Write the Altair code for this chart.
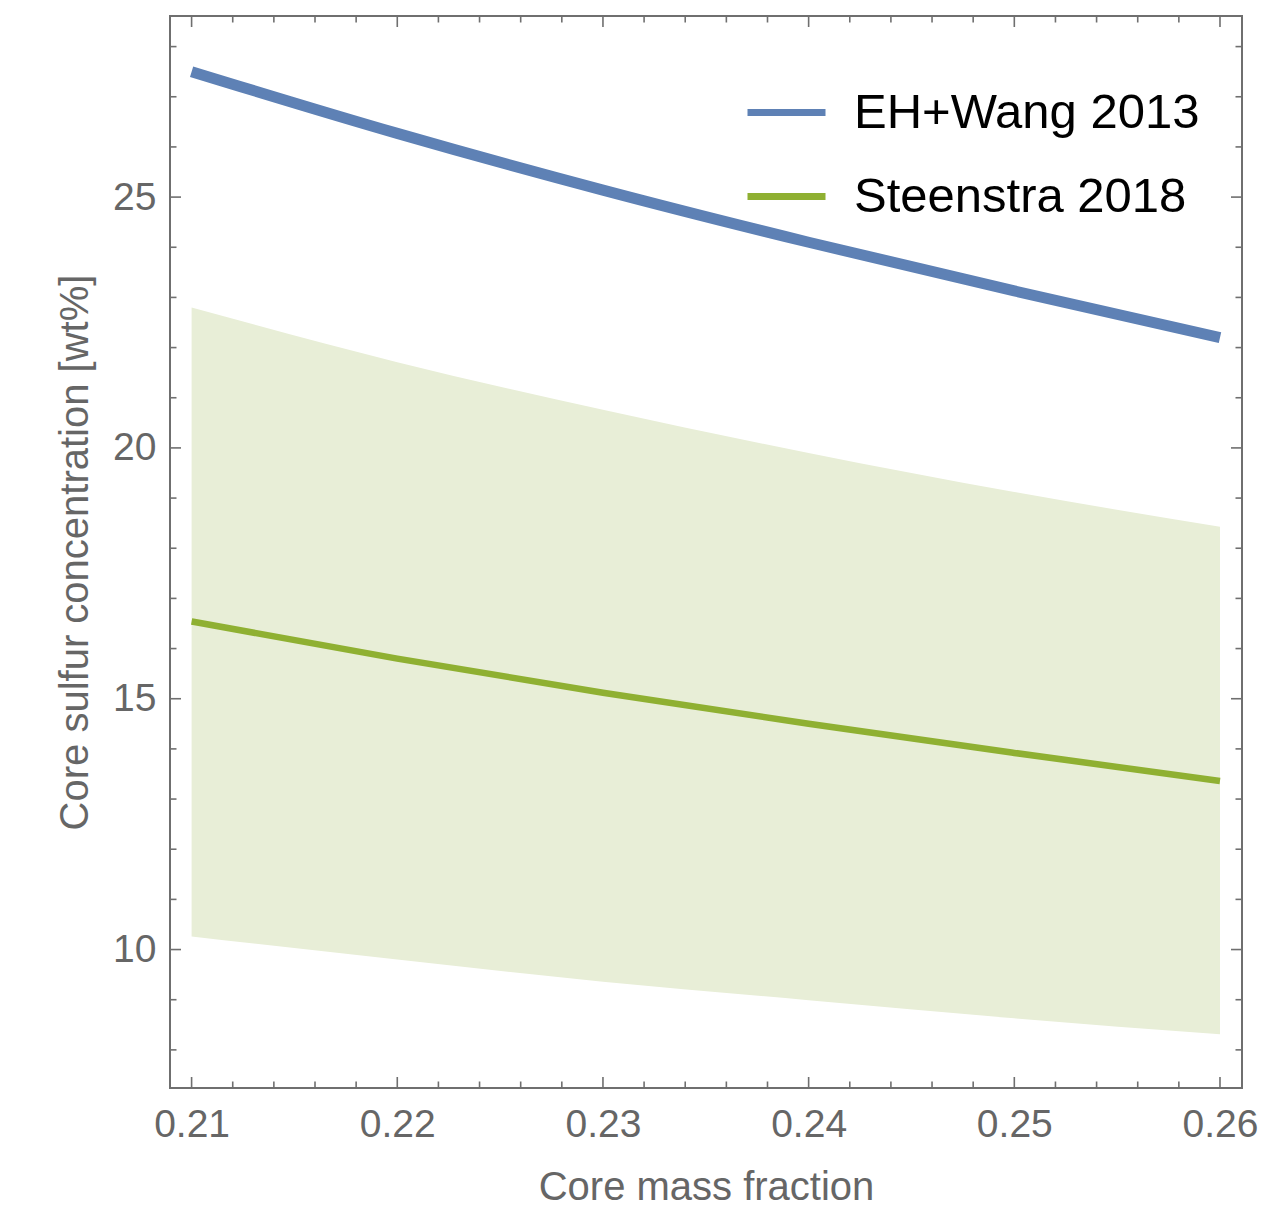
import altair as alt
import pandas as pd

# ---- data ----
cmf = [0.21, 0.22, 0.23, 0.24, 0.25, 0.26]
eh_wang_2013 = [27.50, 26.27, 25.14, 24.10, 23.13, 22.20]
steenstra_2018 = [16.54, 15.80, 15.12, 14.50, 13.92, 13.36]
steenstra_hi = [22.80, 21.71, 20.76, 19.90, 19.12, 18.43]
steenstra_lo = [10.26, 9.80, 9.36, 8.99, 8.63, 8.31]

series_names = ["EH+Wang 2013", "Steenstra 2018"]
series_colors = ["#5e81b5", "#8fb032"]

x_major = [0.21, 0.22, 0.23, 0.24, 0.25, 0.26]
x_minor = [0.212, 0.214, 0.216, 0.218, 0.222, 0.224, 0.226, 0.228,
           0.232, 0.234, 0.236, 0.238, 0.242, 0.244, 0.246, 0.248,
           0.252, 0.254, 0.256, 0.258]
y_major = [10, 15, 20, 25]
y_minor = [8, 9, 11, 12, 13, 14, 16, 17, 18, 19, 21, 22, 23, 24, 26, 27, 28]

x_domain = [0.20895, 0.26107]
y_domain = [7.24, 28.61]

W, H = 1072, 1072
FRAME = "#6f6f6f"
TEXT = "#666666"
FONT = "Liberation Sans"

line_df = pd.DataFrame({
    "cmf": cmf * 2,
    "value": eh_wang_2013 + steenstra_2018,
    "series": [series_names[0]] * len(cmf) + [series_names[1]] * len(cmf),
})
band_df = pd.DataFrame({"cmf": cmf, "hi": steenstra_hi, "lo": steenstra_lo})

xscale = alt.Scale(domain=x_domain, nice=False, zero=False)
yscale = alt.Scale(domain=y_domain, nice=False, zero=False)

xaxis = alt.Axis(values=x_major, format=".2f", title="Core mass fraction",
                 labelPadding=17, titleBaseline="alphabetic", titleY=111)
yaxis = alt.Axis(values=y_major, format="d", title="Core sulfur concentration [wt%]",
                 labelPadding=14, titleBaseline="alphabetic", titleX=-83, titleY=H / 2)


def X(field):
    return alt.X(field, scale=xscale, axis=xaxis, title="Core mass fraction")


def Y(field):
    return alt.Y(field, scale=yscale, axis=yaxis, title="Core sulfur concentration [wt%]")


band = alt.Chart(band_df).mark_area(interpolate="monotone", color="#e8eed7").encode(
    x=X("cmf:Q"),
    y=Y("hi:Q"),
    y2="lo:Q",
)

lines = alt.Chart(line_df).mark_line(interpolate="monotone", strokeCap="butt").encode(
    x=X("cmf:Q"),
    y=Y("value:Q"),
    color=alt.Color("series:N",
                    scale=alt.Scale(domain=series_names, range=series_colors),
                    legend=alt.Legend(title=None, orient="none", legendX=574, legendY=54,
                                      symbolType="stroke", symbolSize=6084,
                                      symbolStrokeWidth=7, labelFontSize=49,
                                      labelFont=FONT, labelColor="black",
                                      labelOffset=25, rowPadding=16, padding=0,
                                      labelLimit=600)),
    strokeWidth=alt.condition(alt.datum.series == series_names[0], alt.value(11), alt.value(6.5)),
)


def xticks(vals, length):
    base = alt.Chart(pd.DataFrame({"t": vals}))
    bottom = base.mark_rule(color=FRAME, strokeWidth=1.6).encode(
        x=X("t:Q"), y=alt.value(H), y2=alt.value(H - length))
    top = base.mark_rule(color=FRAME, strokeWidth=1.6).encode(
        x=X("t:Q"), y=alt.value(0), y2=alt.value(length))
    return [bottom, top]


def yticks(vals, length):
    base = alt.Chart(pd.DataFrame({"t": vals}))
    left = base.mark_rule(color=FRAME, strokeWidth=1.6).encode(
        y=Y("t:Q"), x=alt.value(0), x2=alt.value(length))
    right = base.mark_rule(color=FRAME, strokeWidth=1.6).encode(
        y=Y("t:Q"), x=alt.value(W), x2=alt.value(W - length))
    return [left, right]


tick_layers = xticks(x_major, 11) + xticks(x_minor, 6.5) + yticks(y_major, 11) + yticks(y_minor, 6.5)

chart = alt.layer(band, *tick_layers, lines).properties(
    width=W, height=H,
    autosize=alt.AutoSizeParams(type="none"),
    padding={"left": 170, "top": 16, "right": 44, "bottom": 120},
    background="white",
).configure_view(
    stroke=FRAME, strokeWidth=2,
).configure_axis(
    ticks=False, tickSize=0, domain=False, grid=False,
    labelFont=FONT, labelFontSize=39, labelColor=TEXT,
    titleFont=FONT, titleFontSize=40, titleColor=TEXT, titleFontWeight="normal",
)

chart.save("out.html", embed_options={"renderer": "svg", "actions": False})
